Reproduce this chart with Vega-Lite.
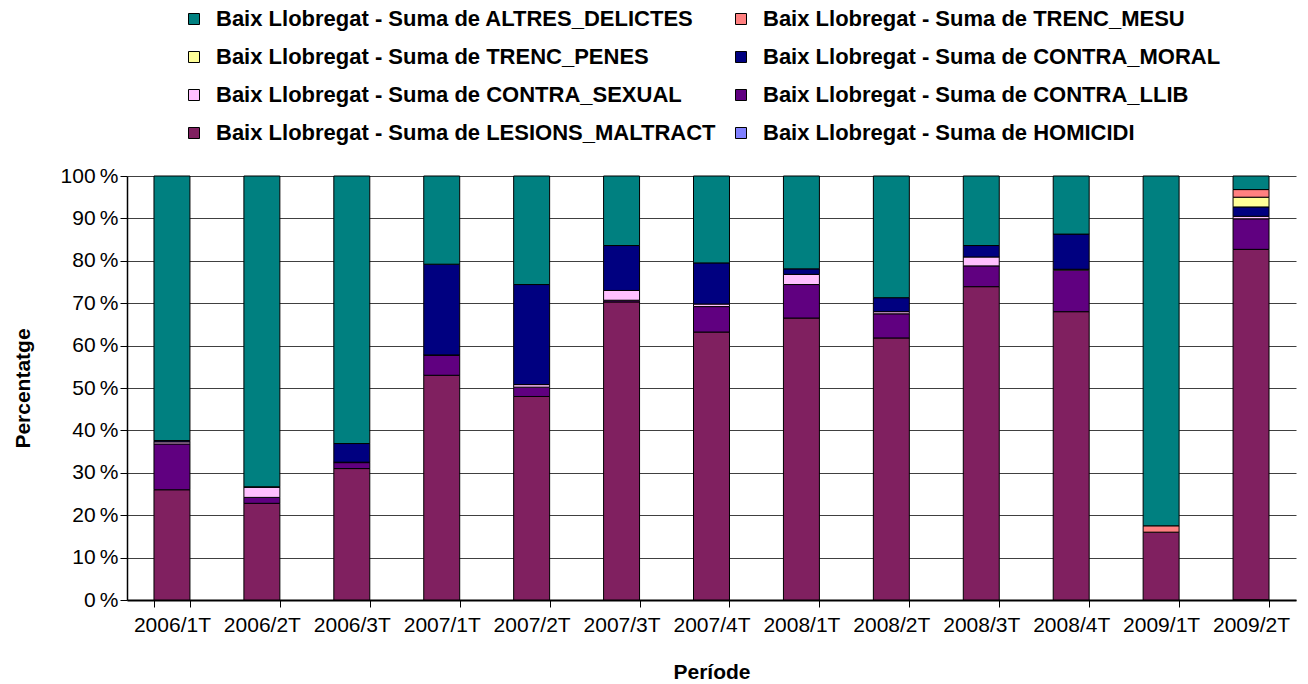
{
  "$schema": "https://vega.github.io/schema/vega-lite/v6.json",
  "width": 1169,
  "height": 424,
  "autosize": {"type": "none"},
  "padding": {"left": 127, "top": 176, "right": 12, "bottom": 84},
  "background": "white",
  "config": {
    "font": "Liberation Sans",
    "view": {"stroke": null},
    "axis": {"labelColor": "black", "titleColor": "black", "labelFont": "Liberation Sans", "titleFont": "Liberation Sans"}
  },
  "data": {
    "values": [
      {"p": "2006/1T", "s": "LESIONS_MALTRACT", "v": 26.0},
      {"p": "2006/1T", "s": "CONTRA_LLIB", "v": 10.8},
      {"p": "2006/1T", "s": "CONTRA_SEXUAL", "v": 0.5},
      {"p": "2006/1T", "s": "CONTRA_MORAL", "v": 0.3},
      {"p": "2006/1T", "s": "ALTRES_DELICTES", "v": 62.4},
      {"p": "2006/2T", "s": "LESIONS_MALTRACT", "v": 22.8},
      {"p": "2006/2T", "s": "CONTRA_LLIB", "v": 1.4},
      {"p": "2006/2T", "s": "CONTRA_SEXUAL", "v": 2.4},
      {"p": "2006/2T", "s": "CONTRA_MORAL", "v": 0.1},
      {"p": "2006/2T", "s": "ALTRES_DELICTES", "v": 73.3},
      {"p": "2006/3T", "s": "LESIONS_MALTRACT", "v": 31.0},
      {"p": "2006/3T", "s": "CONTRA_LLIB", "v": 1.4},
      {"p": "2006/3T", "s": "CONTRA_SEXUAL", "v": 0.1},
      {"p": "2006/3T", "s": "CONTRA_MORAL", "v": 4.4},
      {"p": "2006/3T", "s": "ALTRES_DELICTES", "v": 63.1},
      {"p": "2007/1T", "s": "LESIONS_MALTRACT", "v": 53.0},
      {"p": "2007/1T", "s": "CONTRA_LLIB", "v": 4.7},
      {"p": "2007/1T", "s": "CONTRA_SEXUAL", "v": 0.1},
      {"p": "2007/1T", "s": "CONTRA_MORAL", "v": 21.4},
      {"p": "2007/1T", "s": "ALTRES_DELICTES", "v": 20.8},
      {"p": "2007/2T", "s": "LESIONS_MALTRACT", "v": 48.0},
      {"p": "2007/2T", "s": "CONTRA_LLIB", "v": 2.2},
      {"p": "2007/2T", "s": "CONTRA_SEXUAL", "v": 0.6},
      {"p": "2007/2T", "s": "CONTRA_MORAL", "v": 23.6},
      {"p": "2007/2T", "s": "ALTRES_DELICTES", "v": 25.6},
      {"p": "2007/3T", "s": "LESIONS_MALTRACT", "v": 70.3},
      {"p": "2007/3T", "s": "CONTRA_LLIB", "v": 0.4},
      {"p": "2007/3T", "s": "CONTRA_SEXUAL", "v": 2.3},
      {"p": "2007/3T", "s": "CONTRA_MORAL", "v": 10.6},
      {"p": "2007/3T", "s": "ALTRES_DELICTES", "v": 16.4},
      {"p": "2007/4T", "s": "LESIONS_MALTRACT", "v": 63.2},
      {"p": "2007/4T", "s": "CONTRA_LLIB", "v": 6.0},
      {"p": "2007/4T", "s": "CONTRA_SEXUAL", "v": 0.6},
      {"p": "2007/4T", "s": "CONTRA_MORAL", "v": 9.7},
      {"p": "2007/4T", "s": "ALTRES_DELICTES", "v": 20.5},
      {"p": "2008/1T", "s": "LESIONS_MALTRACT", "v": 66.5},
      {"p": "2008/1T", "s": "CONTRA_LLIB", "v": 7.9},
      {"p": "2008/1T", "s": "CONTRA_SEXUAL", "v": 2.4},
      {"p": "2008/1T", "s": "CONTRA_MORAL", "v": 1.3},
      {"p": "2008/1T", "s": "ALTRES_DELICTES", "v": 21.9},
      {"p": "2008/2T", "s": "LESIONS_MALTRACT", "v": 61.8},
      {"p": "2008/2T", "s": "CONTRA_LLIB", "v": 5.7},
      {"p": "2008/2T", "s": "CONTRA_SEXUAL", "v": 0.5},
      {"p": "2008/2T", "s": "CONTRA_MORAL", "v": 3.3},
      {"p": "2008/2T", "s": "ALTRES_DELICTES", "v": 28.7},
      {"p": "2008/3T", "s": "LESIONS_MALTRACT", "v": 73.9},
      {"p": "2008/3T", "s": "CONTRA_LLIB", "v": 4.9},
      {"p": "2008/3T", "s": "CONTRA_SEXUAL", "v": 2.1},
      {"p": "2008/3T", "s": "CONTRA_MORAL", "v": 2.7},
      {"p": "2008/3T", "s": "ALTRES_DELICTES", "v": 16.4},
      {"p": "2008/4T", "s": "LESIONS_MALTRACT", "v": 68.0},
      {"p": "2008/4T", "s": "CONTRA_LLIB", "v": 9.8},
      {"p": "2008/4T", "s": "CONTRA_SEXUAL", "v": 0.2},
      {"p": "2008/4T", "s": "CONTRA_MORAL", "v": 8.3},
      {"p": "2008/4T", "s": "ALTRES_DELICTES", "v": 13.7},
      {"p": "2009/1T", "s": "LESIONS_MALTRACT", "v": 16.0},
      {"p": "2009/1T", "s": "TRENC_MESU", "v": 1.5},
      {"p": "2009/1T", "s": "ALTRES_DELICTES", "v": 82.5},
      {"p": "2009/2T", "s": "LESIONS_MALTRACT", "v": 82.7},
      {"p": "2009/2T", "s": "CONTRA_LLIB", "v": 7.2},
      {"p": "2009/2T", "s": "CONTRA_SEXUAL", "v": 0.6},
      {"p": "2009/2T", "s": "CONTRA_MORAL", "v": 2.2},
      {"p": "2009/2T", "s": "TRENC_PENES", "v": 2.3},
      {"p": "2009/2T", "s": "TRENC_MESU", "v": 1.8},
      {"p": "2009/2T", "s": "ALTRES_DELICTES", "v": 3.2},
      {"p": "2009/2T", "s": "HOMICIDI", "v": 0}
    ]
  },
  "transform": [
    {"calculate": "indexof(['ALTRES_DELICTES','TRENC_MESU','TRENC_PENES','CONTRA_MORAL','CONTRA_SEXUAL','CONTRA_LLIB','LESIONS_MALTRACT','HOMICIDI'], datum.s)", "as": "k"}
  ],
  "mark": {"type": "bar", "stroke": "black", "strokeWidth": 1},
  "encoding": {
    "x": {
      "field": "p",
      "type": "nominal",
      "sort": null,
      "scale": {"paddingInner": 0.6, "paddingOuter": 0.3},
      "axis": {
        "title": "Període",
        "titleFontSize": 21,
        "titleFontWeight": "bold",
        "titlePadding": 26,
        "labelAngle": 0,
        "labelFontSize": 21,
        "labelPadding": 7,
        "tickBand": "extent",
        "tickSize": 7,
        "tickColor": "black",
        "domainColor": "black",
        "domainWidth": 2,
        "grid": false
      }
    },
    "y": {
      "field": "v",
      "type": "quantitative",
      "stack": "normalize",
      "scale": {"domain": [0, 1], "nice": false},
      "axis": {
        "title": "Percentatge",
        "titleFontSize": 21,
        "titleFontWeight": "bold",
        "titlePadding": 27,
        "values": [0, 0.1, 0.2, 0.3, 0.4, 0.5, 0.6, 0.7, 0.8, 0.9, 1],
        "labelExpr": "format(datum.value * 100, 'd') + '\u2009%'",
        "labelFontSize": 21,
        "labelPadding": 2,
        "tickSize": 7,
        "tickColor": "black",
        "domainColor": "black",
        "domainWidth": 1.5,
        "grid": true,
        "gridColor": "#404040",
        "gridWidth": 1
      }
    },
    "color": {
      "field": "s",
      "type": "nominal",
      "scale": {
        "domain": ["ALTRES_DELICTES", "TRENC_PENES", "CONTRA_SEXUAL", "LESIONS_MALTRACT", "TRENC_MESU", "CONTRA_MORAL", "CONTRA_LLIB", "HOMICIDI"],
        "range": ["#008080", "#FFFF99", "#FFC0FF", "#802060", "#FF8080", "#000080", "#600080", "#8080FF"]
      },
      "legend": {
        "orient": "none",
        "legendX": 56,
        "legendY": -168,
        "title": null,
        "columns": 2,
        "columnPadding": 14,
        "rowPadding": 16,
        "padding": 0,
        "symbolType": "square",
        "symbolSize": 121,
        "symbolStrokeColor": "black",
        "symbolStrokeWidth": 1,
        "symbolOpacity": 1,
        "labelFont": "Liberation Sans",
        "labelFontSize": 22,
        "labelFontWeight": "bold",
        "labelColor": "black",
        "labelOffset": 11,
        "labelLimit": 0,
        "labelExpr": "'Baix Llobregat - Suma de ' + datum.label"
      }
    },
    "order": {"field": "k", "type": "quantitative", "sort": "descending"}
  }
}
